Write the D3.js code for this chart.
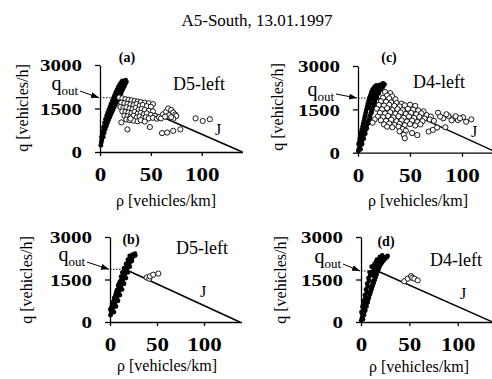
<!DOCTYPE html>
<html>
<head>
<meta charset="utf-8">
<script src="https://cdn.jsdelivr.net/npm/d3@7"></script>
<style>
body { margin: 0; background: #fff; }
svg text { font-family: 'Liberation Serif', 'Times New Roman', serif; }
</style>
</head>
<body>
<svg id="chart" width="492" height="379"></svg>
<script>
// ---- data (rho in vehicles/km, q in vehicles/h) ----
const titleText = "A5-South, 13.01.1997";
const xTicks = [0, 50, 100];
const yTicks = [0, 1500, 3000];
const panelNames = ["(a)", "(b)", "(c)", "(d)"];
const detectorNames = ["D5-left", "D5-left", "D4-left", "D4-left"];
const qoutValues = [1870, 1860, 1890, 1800];
// J line: [rho at q_out, rho at q = 0]
const jLines = [[18, 140], [16, 138], [19, 134], [17, 136]];

// free flow (filled)
const freeA = [
  [0.8,230],[1.2,320],[1.6,400],[2.0,480],[2.4,560],[2.9,640],[3.4,710],[3.9,780],[4.4,850],[4.9,910],
  [5.4,970],[6.0,1030],[6.5,1090],[7.1,1140],[7.7,1200],[8.3,1250],[8.9,1300],[9.5,1350],[10.1,1400],
  [10.7,1450],[11.3,1500],[11.9,1550],[12.5,1600],[13.1,1650],[13.7,1700],[14.3,1750],[14.9,1800],
  [15.5,1850],[16.1,1900],[16.8,1950],[17.5,2000],[18.2,2050],[18.9,2100],[19.6,2150],[20.3,2200],
  [21.0,2250],[21.8,2300],[22.6,2350],[23.4,2400],[24.3,2440],[25.2,2480],
  [3.2,520],[4.2,660],[5.2,790],[6.3,900],[7.4,1010],[8.5,1110],[9.6,1200],[10.7,1290],[11.8,1380],
  [12.9,1460],[14.0,1550],[15.1,1630],[16.2,1710],[17.3,1790],[18.4,1870],[19.5,1950],[20.6,2030],
  [21.7,2110],[22.8,2190],[23.9,2270],[25.0,2350],[26.0,2420],
  [1.5,520],[2.4,700],[3.4,860],[4.4,1000],[5.4,1130],[6.5,1250],[7.6,1360],[8.7,1460],[9.8,1560],
  [10.9,1660],[12.0,1760],[13.2,1860],[14.4,1960],[15.6,2060],[16.8,2150],[18.0,2240],[19.3,2320],
  [20.6,2390],[22.0,2450]
];
const freeB = [
  [0.5,240],[1.5,330],[2.5,430],[3.5,520],[4.5,610],[5.5,700],[6.5,800],[7.5,890],[8.5,990],[9.5,1080],
  [10.5,1170],[11.5,1270],[12.5,1360],[13.5,1450],[14.5,1550],[15.5,1640],[16.5,1740],[17.5,1830],
  [18.5,1920],[19.5,2000],[20.5,2070],[21.5,2140],[22.5,2200],[23.5,2260],[24.5,2310],[25.5,2360],[26.5,2410],
  [0.5,450],[2.4,650],[4.5,850],[6.7,1050],[9.0,1250],[11.3,1450],[13.7,1650],[16.3,1850],[19.0,2080],
  [21.5,2250],[24.0,2380],
  [4.2,350],[6.3,550],[8.5,750],[10.6,950],[12.8,1150],[14.9,1350],[17.0,1550],[19.0,1750],[21.0,1950],
  [23.3,2150],[26.8,2350],
  [1.0,400],[2.0,560],[3.2,700],[4.4,760],[5.8,950],[7.4,1120],[8.8,1300],[10.2,1400],[11.8,1600],
  [13.2,1750],[15.0,1900],[17.0,2050],[19.0,2200],[21.0,2330]
];
const freeC = [
  [0.3,60],[1,150],[2,240],[3,340],[4,440],[5,550],[6,660],[7,770],[8,880],[9,990],[10,1100],[11,1210],
  [12,1320],[13,1430],[14,1540],[15,1650],[16,1760],[17,1870],[18,1980],[19,2080],[20,2170],[21,2250],
  [22,2310],[23,2360],[24,2400],
  [0.5,300],[1.8,500],[3.0,700],[4.4,900],[5.7,1100],[7.0,1300],[8.2,1500],[9.5,1700],[11.0,1900],
  [12.8,2080],[14.5,2200],[16.0,2280],[17.5,2330],
  [2.5,120],[4.0,300],[5.5,480],[7.0,660],[8.5,840],[10.0,1020],[11.5,1200],[13.0,1380],[14.5,1560],
  [16.0,1740],[18.0,1900],[20.0,2050],[22.0,2180],[24.0,2280],[25.5,2360],
  [1.5,400],[2.5,600],[3.7,800],[5.0,1000],[6.3,1200],[7.6,1400],[8.9,1600],[10.2,1800],[12.0,1990],
  [13.5,2150],[15.5,2250],[19.0,2300],[21.0,2350],
  [11.0,1550],[12.0,1700],[13.5,1850],[15.0,1950],[16.0,2050],[17.0,2150],[18.5,2230]
];
const freeD = [
  [0.3,60],[1,150],[2,250],[3,350],[4,450],[5,560],[6,660],[7,770],[8,870],[9,970],[10,1070],[11,1170],
  [12,1270],[13,1370],[14,1470],[15,1570],[16,1670],[17,1770],[18,1860],[19,1940],[20,2010],[21,2070],
  [22,2120],[23,2170],[24,2210],[25,2250],[26,2290],
  [0.5,350],[1.6,550],[2.8,750],[4.0,950],[5.2,1150],[6.4,1350],[7.7,1550],[9.0,1750],[11.0,1950],
  [14.0,2050],[16.5,2200],[19.5,2300],[22.0,2350],
  [2.0,100],[3.2,250],[4.4,400],[5.6,550],[6.8,700],[8.0,850],[9.2,1000],[10.4,1150],[11.6,1300],
  [12.8,1450],[14.0,1600],[15.2,1750],[17.0,1900],[19.0,2000],[21.5,2100],[24.0,2200],[26.5,2280],[27.5,2330],
  [1.2,300],[2.3,480],[3.5,660],[4.7,860],[5.9,1060],[7.1,1250],[8.3,1450],[9.5,1650],[12.5,1950],
  [15.5,2120],[18.0,2180],[21.0,2250],
  [11.0,1750],[13.5,1850],[15.0,1950],[17.0,2060],[19.0,2140],[12.0,1650]
];

// synchronized flow (open circles)
const syncA = [
  [19,1880],[22,1850],[25,1820],[28,1800],[31,1780],[34,1760],[37,1740],[40,1720],[44,1700],[48,1680],[52,1650],
  [21,1700],[24,1680],[27,1660],[30,1640],[33,1620],[36,1650],[39,1600],[42,1620],[46,1580],[50,1560],
  [20,1550],[23,1520],[26,1540],[29,1500],[32,1480],[35,1520],[38,1460],[41,1480],[44,1450],[48,1420],[52,1400],
  [22,1400],[25,1380],[28,1360],[31,1340],[34,1380],[37,1320],[40,1350],[43,1300],[46,1330],[50,1280],[54,1250],
  [24,1250],[27,1230],[30,1200],[33,1250],[36,1190],[39,1220],[42,1170],[45,1200],[48,1160],[52,1180],[56,1150],
  [26,1120],[29,1100],[33,1080],[37,1060],[40,1100],[44,1050],[30,1150],[58,1200],[60,1160],
  [62,1300],[65,1390],[67,1500],[70,1450],[72,1360],[74,1290],[75,1240],[72,1150],[68,1270],[64,1220],[70,1200],
  [21,1020],[27,780],[49,860],[61,650],[66,670],[72,730],[79,780],[94,1160],[101,1070],[108,1130]
];
const syncB = [[39,1570],[41.8,1530],[42.5,1610],[46,1670],[51.4,1710]];
const syncC = [
  [26,2100],[31,2060],[28,1980],[33,1950],[24,1900],[30,1880],[36,1850],
  [22,1780],[27,1760],[32,1740],[37,1720],[42,1700],
  [20,1650],[25,1630],[30,1660],[35,1620],[40,1600],[45,1640],[50,1660],[55,1620],
  [18,1520],[23,1500],[28,1540],[33,1480],[38,1510],[43,1470],[48,1520],[53,1490],[58,1460],[63,1430],
  [21,1380],[26,1360],[31,1400],[36,1350],[41,1390],[46,1340],[51,1380],[56,1330],[61,1360],[66,1300],[70,1250],
  [19,1250],[24,1230],[29,1270],[34,1220],[39,1260],[44,1210],[49,1250],[54,1200],[59,1240],[64,1180],[69,1150],[73,1100],
  [16,1150],[22,1120],[27,1100],[32,1140],[37,1090],[42,1120],[47,1080],[52,1110],[57,1060],[62,1090],
  [14,1040],[25,980],[30,1010],[35,960],[40,1000],[45,950],[50,990],[55,940],[60,980],
  [28,900],[33,880],[39,900],[43,820],[46,760],[40,740],[44,620],[45,500],[52,680],[57,610],[68,730],[72,790],[76,870],
  [77,1380],[82,1190],[87,1270],[92,1190],[96,1130],[101,1225],[104,1070],[109,1155],
  [79,1250],[85,1330],[90,1120],[94,1260],[98,1190],[84,880]
];
const syncD = [[44.8,1440],[48.3,1530],[51.7,1620],[53,1560],[55.2,1530],[58.6,1470]];

const freeSets = [freeA, freeB, freeC, freeD];
const syncSets = [syncA, syncB, syncC, syncD];

// ---- layout of the four panels ----
const layout = [
  { x0: 100, ppu: 1.017, y0: 152, yTop: 65, lab: [127, 62], det: [173, 90], jl: [215, 135],
    qEnd: 78, qY: 90, arrow: [80, 91], yl: [28, 108], xl: [166, 206] },
  { x0: 110, ppu: 0.94, y0: 322, yTop: 237, lab: [131, 244], det: [176, 254], jl: [200, 297],
    qEnd: 85, qY: 261, arrow: [87, 262], yl: [32, 280], xl: [167, 371] },
  { x0: 358, ppu: 1.04, y0: 152.7, yTop: 66, lab: [389, 62], det: [413, 88], jl: [471, 137],
    qEnd: 334, qY: 96, arrow: [336, 94], yl: [283, 107], xl: [418, 206] },
  { x0: 361, ppu: 0.967, y0: 322, yTop: 237, lab: [386, 246], det: [430, 266], jl: [460, 299],
    qEnd: 341, qY: 263, arrow: [343, 264], yl: [286, 280], xl: [419, 372] }
];

const FONT = "'Liberation Serif','Times New Roman',serif";
const svg = d3.select("#chart");

svg.append("defs").append("marker")
  .attr("id", "arr")
  .attr("markerUnits", "userSpaceOnUse")
  .attr("markerWidth", 8).attr("markerHeight", 6)
  .attr("refX", 8).attr("refY", 3)
  .attr("orient", "auto")
  .append("path").attr("d", "M0,0L8,3L0,6Z").attr("fill", "#000");

svg.append("text")
  .attr("x", 257).attr("y", 26)
  .attr("text-anchor", "middle")
  .attr("font-size", 17)
  .text(titleText);

layout.forEach(function(p, i) {
  const x = d3.scaleLinear().domain([0, 140]).range([p.x0, p.x0 + 140 * p.ppu]);
  const y = d3.scaleLinear().domain([0, 3000]).range([p.y0, p.yTop]);
  const g = svg.append("g");

  // axes
  const xa = g.append("g")
    .attr("transform", "translate(0," + p.y0 + ")")
    .call(d3.axisBottom(x).tickValues(xTicks).tickFormat(d3.format("d"))
      .tickSize(4).tickSizeOuter(0).tickPadding(12));
  xa.selectAll("text")
    .style("font-family", FONT).attr("font-size", 19).attr("font-weight", "bold").attr("fill", "#000")
    .attr("textLength", function(d) { return String(d).length * 11.5; })
    .attr("lengthAdjust", "spacingAndGlyphs");

  const ya = g.append("g")
    .attr("transform", "translate(" + p.x0 + ",0)")
    .call(d3.axisLeft(y).tickValues(yTicks).tickFormat(d3.format("d"))
      .tickSize(5).tickSizeOuter(0).tickPadding(13));
  ya.selectAll("text")
    .style("font-family", FONT).attr("font-size", 16).attr("font-weight", "bold").attr("fill", "#000")
    .attr("dy", "0.36em")
    .attr("textLength", function(d) { return String(d).length * 10.5; })
    .attr("lengthAdjust", "spacingAndGlyphs");

  g.selectAll(".domain, .tick line").attr("stroke", "#000").attr("stroke-width", 1.3);

  // axis titles
  g.append("text")
    .attr("transform", "translate(" + p.yl[0] + "," + p.yl[1] + ") rotate(-90)")
    .attr("text-anchor", "middle").attr("font-size", 16)
    .text("q [vehicles/h]");
  g.append("text")
    .attr("x", p.xl[0]).attr("y", p.xl[1])
    .attr("text-anchor", "middle").attr("font-size", 16)
    .text("ρ [vehicles/km]");

  // line J and dotted q_out
  const q0 = qoutValues[i], j = jLines[i];
  g.append("line")
    .attr("x1", x(0)).attr("y1", y(q0)).attr("x2", x(j[0])).attr("y2", y(q0))
    .attr("stroke", "#000").attr("stroke-width", 1).attr("stroke-dasharray", "1.5,1.5");
  g.append("line")
    .attr("x1", x(j[0])).attr("y1", y(q0)).attr("x2", x(j[1])).attr("y2", y(0))
    .attr("stroke", "#000").attr("stroke-width", 1.5);

  // free flow
  g.append("g").selectAll("circle")
    .data(freeSets[i]).join("circle")
    .attr("cx", function(d) { return x(d[0]); })
    .attr("cy", function(d) { return y(d[1]); })
    .attr("r", 2.4).attr("fill", "#000");

  // synchronized flow
  g.append("g").selectAll("circle")
    .data(syncSets[i]).join("circle")
    .attr("cx", function(d) { return x(d[0]); })
    .attr("cy", function(d) { return y(d[1]); })
    .attr("r", 2.6).attr("fill", "#fff").attr("stroke", "#000").attr("stroke-width", 0.9);

  // labels
  g.append("text").attr("x", p.lab[0]).attr("y", p.lab[1])
    .attr("text-anchor", "middle").attr("font-size", 14).attr("font-weight", "bold")
    .text(panelNames[i]);
  g.append("text").attr("x", p.det[0]).attr("y", p.det[1])
    .attr("font-size", 18).text(detectorNames[i]);
  g.append("text").attr("x", p.jl[0]).attr("y", p.jl[1])
    .attr("font-size", 16).text("J");

  const qt = g.append("text").attr("x", p.qEnd).attr("y", p.qY).attr("text-anchor", "end");
  qt.append("tspan").attr("font-size", 20).text("q");
  qt.append("tspan").attr("font-size", 13).attr("dy", 5).text("out");

  g.append("line")
    .attr("x1", p.arrow[0]).attr("y1", p.arrow[1])
    .attr("x2", x(0) - 1).attr("y2", y(q0))
    .attr("stroke", "#000").attr("stroke-width", 1)
    .attr("marker-end", "url(#arr)");
});
</script>
</body>
</html>
